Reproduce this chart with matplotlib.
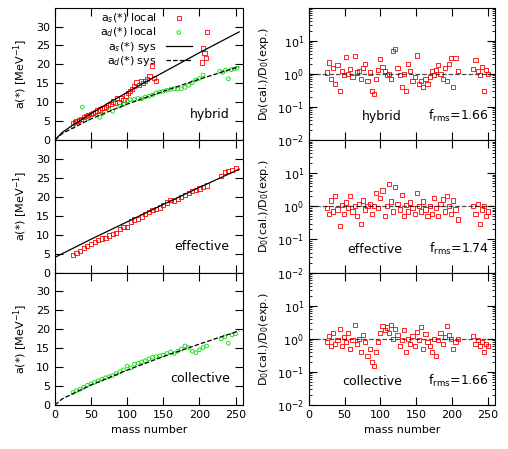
import matplotlib
matplotlib.use("Agg")
import matplotlib.pyplot as plt
from matplotlib.ticker import MultipleLocator, LogLocator, NullFormatter

# ---- data ----
hyb_s_A = [25,28,30,33,36,40,43,46,50,53,56,59,62,65,68,71,74,77,80,83,86,89,92,95,98,101,104,107,110,113,116,119,122,125,128,131,134,137,140,203,205,207,209,210]
hyb_s_a = [4.5,4.8,5.0,5.3,5.6,6.0,6.3,6.6,7.0,7.2,7.5,7.8,8.1,8.4,8.5,8.8,9.2,9.6,10.2,9.8,11.2,10.0,11.0,10.5,11.8,12.4,13.0,13.6,14.4,15.2,14.6,15.6,15.0,15.6,16.2,17.0,19.5,16.5,15.6,20.5,24.2,23.0,21.8,28.5]
hyb_d_A = [25,38,45,62,66,75,80,90,96,100,104,110,115,120,125,130,135,140,145,150,155,160,165,170,175,180,185,190,195,200,205,228,232,236,240,244,248,252]
hyb_d_a = [3.5,8.7,5.6,6.0,7.0,8.0,7.6,9.0,9.5,10.3,10.7,10.8,11.0,10.9,11.4,11.6,11.9,12.5,12.7,12.9,13.2,13.4,13.6,13.5,13.6,13.9,14.5,15.2,15.9,16.3,17.2,18.2,17.9,18.5,16.2,18.6,18.8,19.0]
s_sys_A = [0,10,25,50,75,100,125,150,175,200,225,255]
s_sys_a = [0,2.0,4.0,7.0,9.9,12.6,15.3,17.9,20.5,23.1,25.6,28.6]
d_sys_A = [0,10,25,50,75,100,125,150,175,200,225,255]
d_sys_a = [0,1.7,3.2,5.6,7.6,9.5,11.2,12.9,14.5,16.1,17.6,19.4]
eff_A = [25,30,35,40,45,50,55,60,65,70,75,80,85,90,95,100,105,110,115,120,125,130,135,140,145,150,155,160,165,170,175,180,185,190,195,200,205,210,230,235,240,245,250]
eff_a = [4.7,5.2,5.8,6.5,7.0,7.5,8.0,8.5,9.0,9.2,9.8,10.2,10.5,11.5,12.0,12.0,13.5,14.0,14.2,14.8,15.5,16.0,16.5,16.8,17.2,17.8,18.5,19.2,19.0,19.5,20.0,20.5,21.0,21.6,21.8,22.2,22.5,23.0,25.5,26.5,26.8,27.2,27.6]
eff_sys_A = [0,25,50,100,150,200,255]
eff_sys_a = [4.0,6.4,8.8,13.4,18.0,22.5,27.3]
col_A = [25,30,35,40,45,50,55,60,65,70,75,80,85,90,95,100,105,110,115,120,125,130,135,140,145,150,155,160,165,170,175,180,185,190,195,200,205,210,230,235,240,245,250]
col_a = [3.3,3.8,4.2,4.7,5.2,5.6,6.0,6.4,6.8,7.2,7.5,7.8,8.3,8.8,9.3,10.3,9.8,10.8,11.0,11.4,11.7,12.2,12.6,12.8,13.0,13.2,13.6,14.0,13.6,14.2,14.8,15.6,15.2,14.2,13.8,14.6,15.2,15.6,17.5,18.0,16.3,18.5,18.8]
col_sys_A = [0,10,25,50,100,150,200,255]
col_sys_a = [0,1.6,3.0,5.3,9.2,12.8,16.1,19.6]

r_A = [25,28,31,34,37,40,43,46,49,52,55,58,61,64,67,70,73,76,79,82,85,88,91,94,97,100,103,106,109,112,115,118,121,124,127,130,133,136,139,142,145,148,151,154,157,160,163,166,169,172,175,178,181,184,187,190,193,196,199,202,205,208,230,233,236,239,242,245,248,251]
hyb_r = [1.1,2.2,0.7,1.5,0.5,1.8,0.3,1.2,0.9,3.3,1.0,1.4,0.8,3.4,1.1,1.2,0.7,1.5,2.0,0.6,1.1,0.3,0.25,0.7,1.3,2.8,1.6,1.2,0.9,1.0,0.7,4.8,5.6,1.5,0.9,0.4,1.0,0.3,2.0,1.2,0.6,0.8,3.6,0.5,0.6,0.4,0.7,0.5,0.8,1.2,0.9,1.3,1.8,1.0,0.7,1.5,0.6,2.0,3.0,0.4,3.1,1.2,1.4,2.6,1.2,0.9,1.6,0.3,1.3,1.0]
eff_r = [0.9,0.6,1.5,0.7,2.0,0.8,0.25,1.1,0.6,1.3,0.9,2.0,0.7,1.0,0.5,1.2,0.3,1.5,0.8,1.0,1.2,0.6,1.0,2.5,0.9,1.8,3.0,0.5,1.0,4.6,1.4,0.7,3.8,1.2,0.8,2.2,0.5,1.1,0.7,1.3,0.9,0.6,2.5,1.0,0.7,1.4,0.8,0.5,1.0,0.6,1.8,0.9,0.5,1.2,1.6,0.7,2.0,1.0,0.6,1.5,0.8,0.4,1.0,0.6,1.2,0.3,0.8,1.0,0.5,0.7]
col_r = [0.8,1.2,0.6,1.5,0.7,0.9,2.0,0.6,1.1,0.8,1.5,0.5,0.9,2.6,0.7,1.0,0.4,1.3,0.8,0.3,0.5,0.2,0.15,0.4,0.8,1.5,2.5,1.8,2.2,1.5,2.6,1.0,2.0,1.3,0.6,0.9,1.8,0.4,1.0,0.7,1.2,0.6,1.6,0.9,2.3,0.5,1.4,0.8,0.6,0.4,1.0,0.3,0.9,1.5,0.7,1.1,2.5,1.3,1.0,0.5,0.8,1.0,1.2,0.7,0.9,0.6,0.8,0.4,0.7,0.6]

labels = ["hybrid", "effective", "collective"]
frms = ["1.66", "1.74", "1.66"]

plt.rcParams['font.family'] = 'DejaVu Sans'
plt.rcParams['font.size'] = 9
fig = plt.figure(figsize=(5.08, 4.49), dpi=100)
H = 0.295
red = dict(marker='s', s=9, facecolors='none', edgecolors='#ff0000', linewidths=0.6)
grn = dict(marker='o', s=7, facecolors='none', edgecolors='#00dd00', linewidths=0.6)

def style(ax):
    ax.tick_params(direction='in', which='both', top=True, right=True, labelsize=8)
    ax.tick_params(which='major', length=6)
    ax.set_xlim(0, 260)
    ax.xaxis.set_major_locator(MultipleLocator(50))

for i in range(3):
    y0 = 0.098 + (2 - i) * H
    axl = fig.add_axes([0.108, y0, 0.37, H])
    axr = fig.add_axes([0.608, y0, 0.366, H])
    style(axl); style(axr)
    axl.set_ylim(0, 35)
    axl.yaxis.set_major_locator(MultipleLocator(5))
    axl.set_yticks([0, 5, 10, 15, 20, 25, 30])
    axl.set_ylabel("a(*) [MeV$^{-1}$]", fontsize=8)
    axr.set_yscale('log'); axr.set_ylim(1e-2, 1e2)
    axr.yaxis.set_major_locator(LogLocator(base=10, numticks=10))
    axr.yaxis.set_minor_locator(LogLocator(base=10, subs=range(2, 10), numticks=10))
    axr.yaxis.set_minor_formatter(NullFormatter())
    axr.set_yticks([1e-2, 1e-1, 1, 10])
    axr.set_ylabel("D$_0$(cal.)/D$_0$(exp.)", fontsize=8)
    if i == 0:
        axl.scatter(hyb_s_A, hyb_s_a, label="a$_s$(*) local", **red)
        axl.scatter(hyb_d_A, hyb_d_a, label="a$_d$(*) local", **grn)
        axl.plot(s_sys_A, s_sys_a, 'k-', lw=0.9, label="a$_s$(*) sys")
        axl.plot(d_sys_A, d_sys_a, 'k--', lw=0.9, label="a$_d$(*) sys")
        axl.legend(loc='upper left', bbox_to_anchor=(0.2, 1.03), frameon=False, fontsize=8,
                   markerfirst=False, handlelength=2.3, labelspacing=0.05, borderpad=0.2)
        rr = hyb_r
    elif i == 1:
        axl.scatter(eff_A, eff_a, **red)
        axl.plot(eff_sys_A, eff_sys_a, 'k-', lw=0.9)
        rr = eff_r
    else:
        axl.scatter(col_A, col_a, **grn)
        axl.plot(col_sys_A, col_sys_a, 'k--', lw=0.9)
        rr = col_r
    axl.text(0.93, 0.17, labels[i], transform=axl.transAxes, ha='right', fontsize=9)
    axr.scatter(r_A, rr, **red)
    axr.axhline(1, color='k', ls='--', lw=0.9, alpha=0.7)
    axr.text(0.5, 0.15, labels[i], transform=axr.transAxes, ha='right', fontsize=9)
    axr.text(0.97, 0.15, "f$_{\\rm rms}$=" + frms[i], transform=axr.transAxes, ha='right', fontsize=9)
    if i < 2:
        axl.set_xticklabels([]); axr.set_xticklabels([])
    else:
        axl.set_xlabel("mass number", fontsize=8)
        axr.set_xlabel("mass number", fontsize=8)
        axl.set_xticks([0, 50, 100, 150, 200, 250])
        axr.set_xticks([0, 50, 100, 150, 200, 250])

fig.savefig("out.png", dpi=100)
